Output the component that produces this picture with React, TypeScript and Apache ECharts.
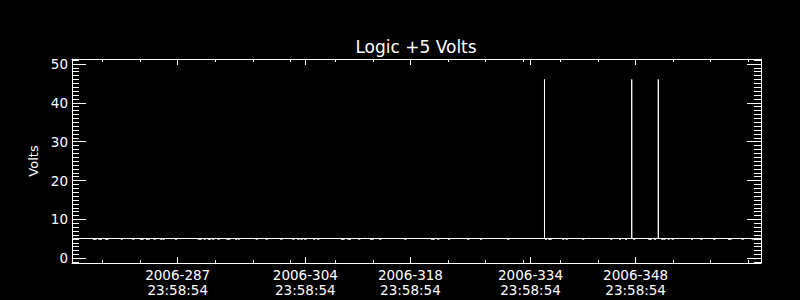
import { useEffect, useRef } from "react";
import * as echarts from "echarts";

// ---- data (day-of-year 2006, fractional) ----
const startDay = 273.92;
const endDay = 365.70;
const baselineVolts = 5.1;
const spikeDays = [336.86, 348.48, 352.02];
const spikeVolts = [46, 46, 46];
const dipVolts = 4.85;
const dipDays = [
  276.85, 277.08, 277.56, 277.78, 278.45, 278.67, 280.54, 282.08, 283.11, 283.34,
  283.91, 284.14, 284.94, 285.81, 286.13, 287.77, 290.80, 291.06, 291.60, 292.13,
  292.30, 292.74, 293.46, 294.61, 294.87, 295.77, 296.13, 298.52, 299.86, 301.80,
  303.40, 304.06, 304.49, 305.00, 306.20, 306.73, 309.89, 310.11, 310.73, 310.95,
  312.19, 313.75, 313.97, 314.99, 318.32, 321.87, 322.10, 322.71, 324.14, 326.71,
  328.40, 332.04, 337.06, 337.50, 337.69, 339.36, 339.82, 342.03, 345.76, 346.92,
  347.72, 348.82, 350.82, 351.01, 351.58, 352.55, 352.82, 353.41, 353.94, 356.51,
  357.75, 359.48, 361.44, 361.66, 363.26, 364.59,
];

// ---- ticks ----
const majorDays = [287.999, 304.999, 318.999, 334.999, 348.999];
const majorDates = ["2006-287", "2006-304", "2006-318", "2006-334", "2006-348"];
const majorTimes = ["23:58:54", "23:58:54", "23:58:54", "23:58:54", "23:58:54"];
const minorDays = [278, 283, 293, 298, 303, 309, 314, 324, 329, 334, 339, 344, 354, 359, 364];
const yMajor = [0, 10, 20, 30, 40, 50];
const yMin = -1.2;
const yMax = 51.25;

const titleText = "Logic +5 Volts";
const yName = "Volts";

const WHITE = "#ffffff";
const FONT = "DejaVu Sans";

const yMinor: number[] = [];
for (let v = -1; v <= 51; v++) if (v % 10 !== 0) yMinor.push(v);

function xAxisDef(position: "top" | "bottom", ticks: number[], len: number, line: boolean, labels: boolean) {
  return {
    type: "value",
    position,
    min: startDay,
    max: endDay,
    axisLine: { show: line, onZero: false, lineStyle: { color: WHITE, width: 1 } },
    axisTick: { show: true, inside: true, length: len, customValues: ticks, lineStyle: { color: WHITE, width: 1 } },
    axisLabel: labels
      ? {
          show: true,
          customValues: ticks,
          color: WHITE,
          fontSize: 13.5,
          fontFamily: FONT,
          lineHeight: 15,
          margin: 4,
          formatter: (v: number) => {
            const i = majorDays.findIndex((d) => Math.abs(d - v) < 1e-6);
            return i >= 0 ? `${majorDates[i]}\n${majorTimes[i]}` : "";
          },
        }
      : { show: false },
    splitLine: { show: false },
  };
}

function yAxisDef(position: "left" | "right", ticks: number[], len: number, line: boolean, labels: boolean, name?: string) {
  return {
    type: "value",
    position,
    min: yMin,
    max: yMax,
    name: name,
    nameLocation: "middle",
    nameGap: 31,
    nameRotate: 90,
    nameTextStyle: { color: WHITE, fontSize: 13, fontFamily: FONT },
    axisLine: { show: line, onZero: false, lineStyle: { color: WHITE, width: 1 } },
    axisTick: { show: true, inside: true, length: len, customValues: ticks, lineStyle: { color: WHITE, width: 1 } },
    axisLabel: labels
      ? { show: true, customValues: ticks, color: WHITE, fontSize: 13.5, fontFamily: FONT, margin: 4 }
      : { show: false },
    splitLine: { show: false },
  };
}

export default function App() {
  const ref = useRef<HTMLDivElement>(null);
  useEffect(() => {
    document.body.style.margin = "0";
    document.body.style.background = "#000";
    const chart = echarts.init(ref.current!, null, { renderer: "svg" });

    const lineData: number[][] = [[startDay, baselineVolts]];
    spikeDays.forEach((d, i) => {
      lineData.push([d, baselineVolts], [d, spikeVolts[i]], [d, baselineVolts]);
    });
    lineData.push([endDay, baselineVolts]);

    chart.setOption({
      animation: false,
      backgroundColor: "#000000",
      title: {
        text: titleText,
        left: 416,
        top: 38,
        textAlign: "center",
        padding: 0,
        textStyle: { color: WHITE, fontSize: 17, fontWeight: "normal", fontFamily: FONT },
      },
      grid: { left: 72, right: 39, top: 59, bottom: 37, containLabel: false },
      xAxis: [
        xAxisDef("bottom", majorDays, 6, true, true),
        xAxisDef("bottom", minorDays, 3, false, false),
        xAxisDef("top", majorDays, 6, true, false),
        xAxisDef("top", minorDays, 3, false, false),
      ],
      yAxis: [
        yAxisDef("left", yMajor, 14, true, true, yName),
        yAxisDef("left", yMinor, 7, false, false),
        yAxisDef("right", yMajor, 14, true, false),
        yAxisDef("right", yMinor, 7, false, false),
      ],
      series: [
        {
          type: "line",
          xAxisIndex: 0,
          yAxisIndex: 0,
          data: lineData,
          symbol: "none",
          lineStyle: { color: WHITE, width: 1 },
          silent: true,
        },
        {
          type: "scatter",
          xAxisIndex: 0,
          yAxisIndex: 0,
          data: dipDays.map((d) => [d, dipVolts]),
          symbol: "rect",
          symbolSize: [2, 1],
          itemStyle: { color: WHITE },
          silent: true,
        },
      ],
    });
    return () => chart.dispose();
  }, []);
  return <div ref={ref} style={{ width: 800, height: 300, background: "#000" }} />;
}
